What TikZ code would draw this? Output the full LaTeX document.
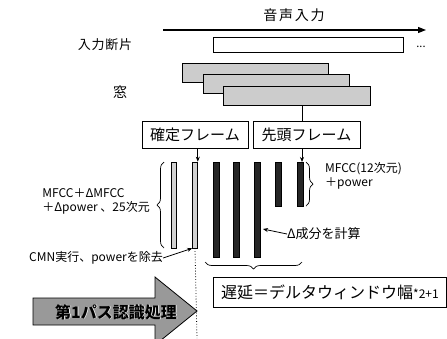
\documentclass[tikz,border=0pt]{standalone}
\usepackage{fontspec}
\setmainfont{Noto Sans CJK JP}
\usetikzlibrary{arrows.meta,decorations.pathreplacing}
\begin{document}
\begin{tikzpicture}[x=1pt,y=-1pt,
  every node/.style={inner sep=0pt},
  win/.style={draw=black,line width=0.9pt,fill=black!20,rectangle,inner sep=0pt},
  frm/.style={draw=black,line width=0.7pt,fill=white,minimum height=27pt,font=\fontsize{15}{17}\selectfont},
  lbar/.style={draw=black,line width=0.6pt,fill=black!18,minimum width=5pt},
  dbar/.style={draw=black,fill=black!85,minimum width=6pt},
  lab/.style={font=\fontsize{12}{14}\selectfont,align=left},
  arr/.style={-{Stealth[length=5pt,width=4pt]},line width=0.8pt},
  brc/.style={decorate,decoration={brace,amplitude=7pt},line width=0.7pt}
]
\useasboundingbox (0,0) rectangle (447,338);
% top arrow
\coordinate (ta) at (163,30);
\coordinate (tb) at (426,30);
\draw[-{Triangle[length=8pt,width=6pt]},line width=1.3pt] (ta) -- (tb);
\node[font=\fontsize{14}{16}\selectfont\addfontfeature{LetterSpace=12}] (onsei) at (294,15) {音声入力};
% input fragment
\node[font=\fontsize{13}{15}\selectfont\addfontfeature{LetterSpace=6}] (dlab) at (105,45) {入力断片};
\node[draw=black,line width=0.8pt,minimum width=190pt,minimum height=15pt] (inp) at (308,44.5) {};
\node[font=\fontsize{11}{13}\selectfont] (dots) at (421,47) {...};
% windows
\node[win,minimum width=146pt,minimum height=19pt] (w1) at (255,72.5) {};
\node[win,minimum width=146pt,minimum height=19pt] (w2) at (276,84) {};
\node[win,minimum width=147pt,minimum height=19pt] (w3) at (297,95.5) {};
\node[font=\fontsize{14}{16}\selectfont] (mado) at (120,92) {窓};
% frame boxes
\node[frm,minimum width=106pt] (kakutei) at (195,134.5) {確定フレーム};
\node[frm,minimum width=107pt] (sentou) at (306.5,134.5) {先頭フレーム};
\draw[line width=0.8pt] (302,105) -- (302,121);
% bars
\node[lbar,minimum height=86pt] (b1) at (173.5,205) {};
\node[lbar,minimum height=86pt] (b2) at (195,205) {};
\node[dbar,minimum height=95pt] (b3) at (216,209.5) {};
\node[dbar,minimum height=95pt] (b4) at (236.5,209.5) {};
\node[dbar,minimum height=95pt] (b5) at (257.5,209.5) {};
\node[dbar,minimum height=44pt] (b6) at (278,184) {};
\node[dbar,minimum height=44pt] (b7) at (300,184) {};
\draw[arr] (kakutei.south -| b2.north east) -- (b2.north east);
\draw[arr] (sentou.south -| 302,0) -- (302,162);
% braces
\draw[brc] (164,248) -- (164,162);
\draw[brc] (306,162) -- (306,206);
\draw[brc] (302,262) -- (205,262);
% labels
\node[lab,anchor=west] (m12) at (325,176) {MFCC(12次元)\\＋power};
\node[lab,anchor=east] (m25) at (150,201) {MFCC＋ΔMFCC\\＋Δpower 、25次元};
\node[font=\fontsize{12}{14}\selectfont,anchor=east] (cmn) at (163,258) {CMN実行、powerを除去};
\draw[arr] (cmn.east) -- (b2.south west);
\node[font=\fontsize{13}{15}\selectfont,anchor=west] (delta) at (287,234) {Δ成分を計算};
\draw[arr] (delta.west) -- (263,229);
% dotted line
\draw[dotted,line width=0.8pt] (b2.south) -- (197,338);
% delay box
\node[draw=black,line width=0.8pt,minimum width=233pt,minimum height=30pt,anchor=north west] (delay) at (213,277) {};
\node[anchor=west,font=\fontsize{16}{18}\selectfont] (dtext) at (221,292) {遅延＝デルタウィンドウ幅{\fontsize{12}{14}\selectfont *2+1}};
% big arrow
\draw[line width=0.8pt,fill=black!40] (33,298) -- (155,298) -- (155,277) -- (197,311) -- (155,345) -- (155,325) -- (33,325) -- cycle;
\node[font=\fontsize{16}{18}\selectfont\bfseries,text=white] (pass1s) at (116.8,312.8) {第1パス認識処理};
\node[font=\fontsize{16}{18}\selectfont\bfseries,text=black] (pass1) at (116,312) {第1パス認識処理};
\end{tikzpicture}
\end{document}
